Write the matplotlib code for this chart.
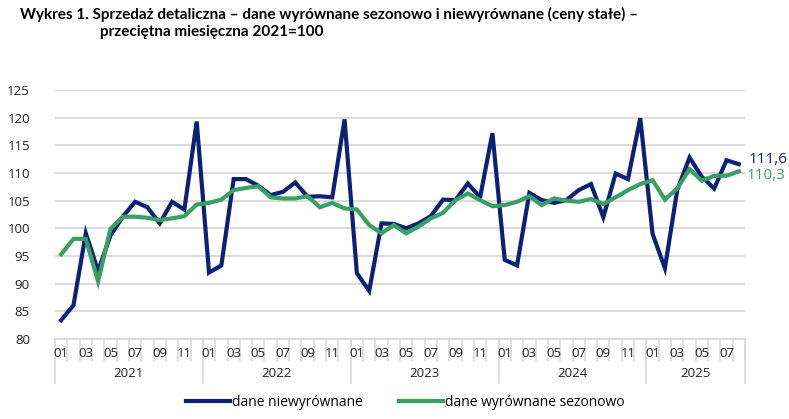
import matplotlib.pyplot as plt
import matplotlib.transforms as mtransforms
import numpy as np

plt.rcParams['font.family'] = ['Open Sans', 'DejaVu Sans']

# Monthly data 2021-01 .. 2025-08, average 2021 = 100
years = ['2021', '2022', '2023', '2024', '2025']
months_per_year = [12, 12, 12, 12, 8]

niewyrownane = [
    83.4, 86.1, 99.1, 92.3, 98.7, 102.1, 104.8, 103.8, 100.9, 104.8, 103.4, 119.3,
    92.0, 93.3, 108.9, 108.9, 107.7, 106.0, 106.6, 108.3, 105.7, 105.8, 105.6, 119.7,
    91.9, 88.7, 100.9, 100.8, 100.0, 100.9, 102.2, 105.2, 105.1, 108.1, 105.6, 117.2,
    94.3, 93.3, 106.4, 105.1, 104.6, 105.1, 106.9, 108.0, 102.0, 109.9, 108.9, 119.9,
    99.0, 92.8, 106.9, 112.8, 109.3, 107.2, 112.3, 111.6,
]
wyrownane = [
    95.3, 98.1, 98.1, 90.4, 99.9, 102.1, 102.1, 101.9, 101.5, 101.8, 102.2, 104.3,
    104.6, 105.2, 106.9, 107.3, 107.6, 105.6, 105.4, 105.4, 105.8, 103.8, 104.6, 103.6,
    103.4, 100.6, 99.1, 100.6, 99.1, 100.3, 101.8, 102.8, 105.1, 106.3, 105.1, 104.0,
    104.2, 104.8, 105.8, 104.2, 105.4, 105.0, 104.8, 105.3, 104.4, 105.6, 106.9, 108.0,
    108.7, 105.2, 107.2, 110.7, 108.6, 109.5, 109.5, 110.3,
]

blue = '#0b2077'
green = '#38a063'
grid_col = '#d9d9d9'

x = np.arange(len(niewyrownane))

fig = plt.figure(figsize=(7.89, 4.19), dpi=100)
ax = fig.add_axes([55 / 789, 1 - 339 / 419, 690 / 789, 249 / 419])

ax.plot(x, niewyrownane, color=blue, lw=3.0, solid_joinstyle='miter', label='dane niewyrównane')
ax.plot(x, wyrownane, color=green, lw=3.0, solid_joinstyle='miter', label='dane wyrównane sezonowo')

ax.set_xlim(-0.5, len(x) - 0.5)
ax.set_ylim(80, 125)
ax.set_yticks(np.arange(80, 126, 5))
ax.yaxis.grid(True, color=grid_col, lw=1.3)
ax.set_axisbelow(True)
for s in ['top', 'right', 'left']:
    ax.spines[s].set_visible(False)
ax.spines['bottom'].set_color(grid_col)
ax.spines['bottom'].set_linewidth(1.3)
ax.tick_params(axis='y', length=0, pad=18, labelsize=9.5, colors='#222222')

# month boundaries as ticks, labels placed as text
ax.set_xticks(np.arange(-0.5, len(x), 1.0))
ax.set_xticklabels([])
ax.tick_params(axis='x', length=16, width=1.2, color=grid_col, direction='out')

trans = mtransforms.blended_transform_factory(ax.transData, ax.transAxes)
i = 0
for yr, n in zip(years, months_per_year):
    for m in range(1, n + 1, 2):
        ax.text(i + m - 1, -0.058, f'{m:02d}', transform=trans, ha='center', va='center',
                fontsize=9.5, color='#222222')
    ax.text(i + n / 2 - 0.5, -0.138, yr, transform=trans, ha='center', va='center',
            fontsize=9.5, color='#222222')
    ax.plot([i - 0.5, i - 0.5], [0, -0.175], transform=trans, color=grid_col, lw=1.2, clip_on=False)
    i += n
ax.plot([i - 0.5, i - 0.5], [0, -0.175], transform=trans, color=grid_col, lw=1.2, clip_on=False)

# end value labels
ax.text(len(x) - 0.2, niewyrownane[-1] + 0.9, '111,6', color=blue, fontsize=11, va='center', ha='left')
ax.text(len(x) - 0.35, wyrownane[-1] - 0.7, '110,3', color=green, fontsize=11, va='center', ha='left')

fig.legend(loc='center', bbox_to_anchor=(405 / 789, 1 - 402 / 419), ncol=2, frameon=False,
           fontsize=10, handlelength=3.2, handletextpad=0.1, columnspacing=2.6)

fig.text(20 / 789, 1 - 14 / 419, 'Wykres 1. Sprzedaż detaliczna – dane wyrównane sezonowo i niewyrównane (ceny stałe) –',
         fontsize=11, fontweight='bold', family=['Lato', 'DejaVu Sans'], va='center', ha='left')
fig.text(100 / 789, 1 - 32 / 419, 'przeciętna miesięczna 2021=100',
         fontsize=11, fontweight='bold', family=['Lato', 'DejaVu Sans'], va='center', ha='left')

fig.savefig('out.png', dpi=100)
